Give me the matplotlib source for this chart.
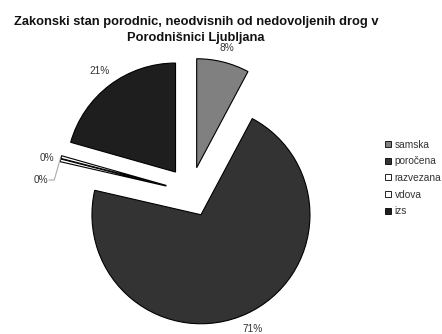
import matplotlib
matplotlib.use("Agg")
import matplotlib.pyplot as plt
import numpy as np

plt.rcParams['font.family'] = ['Liberation Sans', 'DejaVu Sans']

categories = ["samska", "poročena", "razvezana", "vdova", "izs"]
values = [7.8, 70.8, 0.4, 0.4, 20.6]
colors = ["#808080", "#333333", "#ffffff", "#ffffff", "#1e1e1e"]
title = "Zakonski stan porodnic, neodvisnih od nedovoljenih drog v\nPorodnišnici Ljubljana"

W, H = 442, 334
fig = plt.figure(figsize=(W / 100, H / 100), dpi=100)
ax = fig.add_axes([0, 0, 1, 1])

R = 109
cx, cy = 190.6, H - 192
# pie offsets are in data units
explode = [25] * len(values)
FS = 7.3

wedges, texts, autotexts = ax.pie(
    values, colors=colors, explode=explode, startangle=90, counterclock=False,
    center=(cx, cy), radius=R, autopct='%.0f%%', pctdistance=1.15,
    wedgeprops=dict(edgecolor='black', linewidth=0.8),
    textprops=dict(fontsize=FS, color='#333333'), frame=True)
ax.set_xlim(0, W)
ax.set_ylim(0, H)
ax.set_aspect('equal')
ax.axis('off')

# outside label distance for each slice (in radii from slice centre)
label_dist = [1.13, 1.155, 1.0, 1.0, 1.16]

for i, (w, t) in enumerate(zip(wedges, autotexts)):
    ang = np.deg2rad((w.theta1 + w.theta2) / 2)
    ex, ey = w.center
    if values[i] >= 1:
        t.set_position((ex + label_dist[i] * R * np.cos(ang),
                        ey + label_dist[i] * R * np.sin(ang)))
        continue
    # tiny slices: labels placed to the left, second one with a leader line
    t.set_visible(False)
    px = ex + R * np.cos(ang)
    py = ey + R * np.sin(ang)
    lbl = '%.0f%%' % (100 * values[i] / sum(values))
    if i == 2:
        ax.text(px - 6, py + 2, lbl, ha='right', va='center',
                fontsize=FS, color='#333333')
    else:
        ax.plot([px - 1, px - 7, px - 12], [py - 2, py - 23, py - 23],
                color='#aaaaaa', lw=0.8)
        ax.text(px - 13, py - 23, lbl, ha='right', va='center',
                fontsize=FS, color='#333333')

fig.text(0.443, 0.953, title, ha='center', va='top', fontsize=9.3,
         fontweight='bold', linespacing=1.5, color='#111111')

handles = [plt.Rectangle((0, 0), 1, 1, facecolor=c, edgecolor='black', lw=0.6)
           for c in colors]
leg = fig.legend(handles, categories, loc='center left',
                 bbox_to_anchor=(0.872, 0.467), frameon=False, fontsize=FS,
                 handlelength=0.55, handleheight=0.55, handletextpad=0.35,
                 labelspacing=0.66, borderaxespad=0, borderpad=0)
for t in leg.get_texts():
    t.set_color('#333333')

fig.savefig("out.png", dpi=100)
